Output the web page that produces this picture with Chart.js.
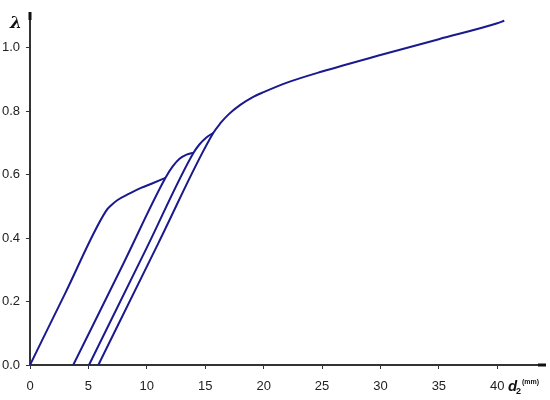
<!DOCTYPE html>
<html>
<head>
<meta charset="utf-8">
<script src="https://cdn.jsdelivr.net/npm/chart.js@4/dist/chart.umd.min.js"></script>
<style>
  html, body { margin: 0; padding: 0; background: #fff; }
  #wrap { width: 550px; height: 400px; position: relative; }
</style>
</head>
<body>
<div id="wrap"><canvas id="lambdaChart"></canvas></div>
<script>
// ---- data (d2 in mm, lambda) ----
const curve1X = [0, 3, 6.5, 7.0, 7.5, 8.5, 9.5, 10.5, 11.6];
const curve1Y = [0, 0.225, 0.485, 0.505, 0.52, 0.54, 0.558, 0.573, 0.59];

const curve2X = [3.7, 8, 11.6, 12.2, 12.8, 13.4, 14.0];
const curve2Y = [0, 0.32, 0.59, 0.625, 0.65, 0.663, 0.669];

const curve3X = [5.05, 10, 14.0, 14.5, 15.1, 15.7];
const curve3Y = [0, 0.37, 0.669, 0.695, 0.717, 0.732];

const curve4X = [5.85, 11, 15.7, 16.3, 17, 18, 19, 20, 22, 25, 30, 35, 40, 40.6];
const curve4Y = [0, 0.385, 0.732, 0.762, 0.79, 0.82, 0.843, 0.86, 0.89, 0.925, 0.977, 1.027, 1.077, 1.085];

const xTicks = [0, 5, 10, 15, 20, 25, 30, 35, 40];
const yTicks = [0, 0.2, 0.4, 0.6, 0.8, 1.0];

const lineBlue = '#1a1a8e';
const axisDark = '#333333';
const tickFont = { family: '"Liberation Sans", sans-serif', size: 13 };

function toPoints(xs, ys) {
  return xs.map((x, i) => ({ x: x, y: ys[i] }));
}

function curve(xs, ys) {
  return {
    data: toPoints(xs, ys),
    showLine: true,
    borderColor: lineBlue,
    borderWidth: 2,
    pointRadius: 0,
    tension: 0.3,
    cubicInterpolationMode: 'monotone',
    fill: false
  };
}

// axis titles: lambda at top-left, d2 (mm) at bottom-right
const axisTitles = {
  id: 'axisTitles',
  afterDraw(chart) {
    const ctx = chart.ctx;
    const area = chart.chartArea;
    ctx.save();
    ctx.fillStyle = '#111';
    ctx.textBaseline = 'alphabetic';
    ctx.font = 'bold italic 17px "DejaVu Serif", serif';
    ctx.fillText('\u03bb', 10, 28);
    ctx.font = 'bold italic 15px "Liberation Sans", sans-serif';
    ctx.fillText('d', 508, 391);
    ctx.font = 'bold 9px "Liberation Sans", sans-serif';
    ctx.fillText('2', 516, 394);
    ctx.font = 'bold 7px "Liberation Sans", sans-serif';
    ctx.fillText('(mm)', 522, 384);
    // small thick caps at the axis ends
    ctx.fillRect(area.left - 1.5, 12, 3, 8);
    ctx.fillRect(area.right - 6, area.bottom - 1.5, 8, 3);
    ctx.restore();
  }
};

new Chart(document.getElementById('lambdaChart'), {
  type: 'scatter',
  data: {
    datasets: [
      curve(curve1X, curve1Y),
      curve(curve2X, curve2Y),
      curve(curve3X, curve3Y),
      curve(curve4X, curve4Y)
    ]
  },
  options: {
    responsive: true,
    maintainAspectRatio: false,
    animation: false,
    layout: { padding: { top: 16, right: 6, left: 0, bottom: 0 } },
    plugins: {
      legend: { display: false },
      tooltip: { enabled: false }
    },
    scales: {
      x: {
        type: 'linear',
        min: 0,
        max: 44,
        afterBuildTicks: axis => { axis.ticks = xTicks.map(v => ({ value: v })); },
        afterFit: axis => { axis.height = 35; },
        border: { color: axisDark, width: 2 },
        grid: { drawOnChartArea: false, drawTicks: true, tickLength: 4, color: axisDark },
        ticks: {
          padding: 10,
          color: '#222',
          font: tickFont,
          maxRotation: 0,
          callback: v => v
        }
      },
      y: {
        type: 'linear',
        min: 0,
        max: 1.1,
        afterBuildTicks: axis => { axis.ticks = yTicks.map(v => ({ value: v })); },
        afterFit: axis => { axis.width = 30; },
        border: { color: axisDark, width: 2 },
        grid: { drawOnChartArea: false, drawTicks: true, tickLength: 4, color: axisDark },
        ticks: {
          padding: 6,
          color: '#222',
          font: tickFont,
          callback: v => v.toFixed(1)
        }
      }
    }
  },
  plugins: [axisTitles]
});
</script>
</body>
</html>
